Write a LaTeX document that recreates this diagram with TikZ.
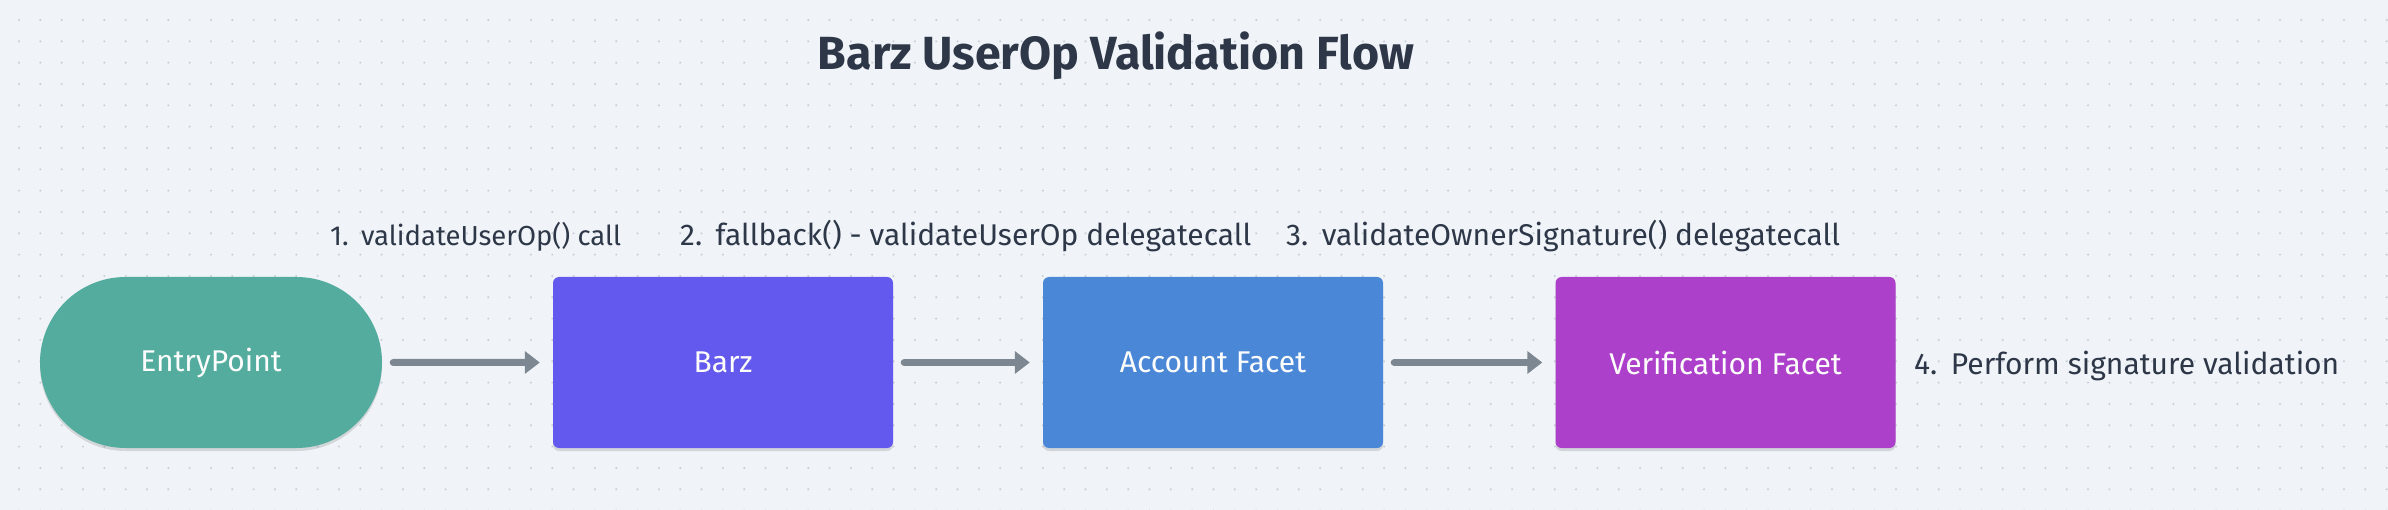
\documentclass[tikz,border=0pt]{standalone}
\usepackage{fontspec}
\setmainfont{Fira Sans}
\usetikzlibrary{arrows.meta,shapes.misc,shadows}
\definecolor{bgc}{HTML}{F0F4F8}
\definecolor{dotc}{HTML}{C6CDD7}
\definecolor{txtc}{HTML}{2D3748}
\definecolor{entryc}{HTML}{53AC9E}
\definecolor{barzc}{HTML}{6359EE}
\definecolor{accc}{HTML}{4A87D7}
\definecolor{verc}{HTML}{AD40CA}
\definecolor{arrc}{HTML}{7D8792}
\tikzset{
  boxbase/.style={minimum width=340pt, minimum height=171pt, inner sep=0pt, text=white,
    font=\fontsize{30}{34}\selectfont,
    drop shadow={shadow xshift=0pt, shadow yshift=-3pt, opacity=0.12, fill=black}},
  stepbox/.style={boxbase, rectangle, rounded corners=6pt},
  pillbox/.style={boxbase, rounded rectangle, minimum width=342pt},
  lbl/.style={anchor=base west, inner sep=0pt, text=txtc, font=\fontsize{30}{34}\selectfont},
  flow/.style={draw=arrc, line width=7pt, line cap=round, -{Triangle[length=15pt,width=22pt]},
    shorten <=11pt, shorten >=13pt},
}
\begin{document}
\begin{tikzpicture}[x=1pt,y=-1pt]
\fill[bgc] (0,0) rectangle (2388,510);
\useasboundingbox (0,0) rectangle (2388,510);
\foreach \i in {0,...,111}{
  \foreach \j in {0,...,23}{
    \fill[dotc] ({19+21.33*\i},{20+21.33*\j}) circle (1.1pt);
  }
}
\node[anchor=base, inner sep=0pt, text=txtc, font=\bfseries\fontsize{46.5}{50}\selectfont] (title) at (1116,70) {Barz UserOp Validation Flow};
\node[pillbox, fill=entryc] (entry) at (211,362.5) {EntryPoint};
\node[stepbox, fill=barzc] (barz) at (723,362.5) {Barz};
\node[stepbox, fill=accc] (acc) at (1213,362.5) {Account Facet};
\node[stepbox, fill=verc] (ver) at (1725.5,362.5) {Verification Facet};
\draw[flow] (entry) -- (barz);
\draw[flow] (barz) -- (acc);
\draw[flow] (acc) -- (ver);
\node[lbl, font=\fontsize{27.5}{32}\selectfont] (l1) at (330,246) {1.\hspace{0.45em}validateUserOp() call};
\node[lbl] (l2) at (680,246) {2.\hspace{0.45em}fallback() - validateUserOp delegatecall};
\node[lbl] (l3) at (1286,246) {3.\hspace{0.45em}validateOwnerSignature() delegatecall};
\node[lbl] (l4) at (1914,375) {4.\hspace{0.45em}Perform signature validation};
\end{tikzpicture}
\end{document}
